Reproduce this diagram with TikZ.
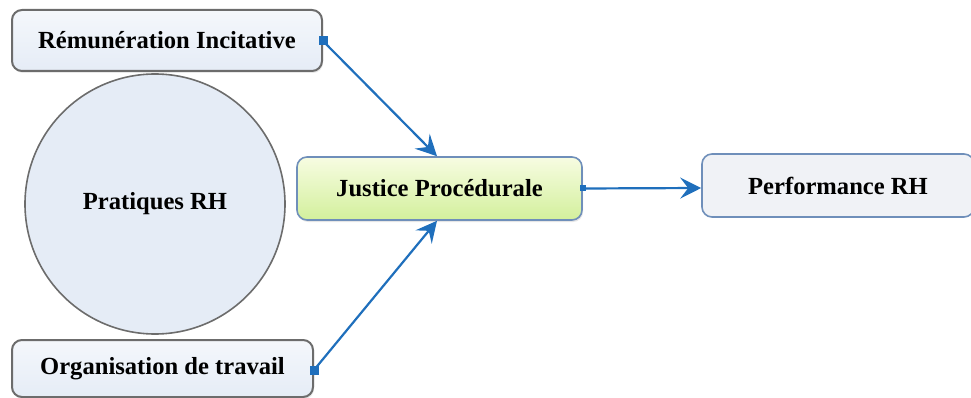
\documentclass[tikz,border=0pt]{standalone}
\usepackage{fontspec}
\setmainfont{Liberation Serif}
\usetikzlibrary{arrows.meta,shadows}
\definecolor{linkblue}{HTML}{1F6FBC}
\definecolor{graybd}{HTML}{6C6C6C}
\definecolor{bluebd}{HTML}{6F8FBA}
\definecolor{paleblue}{HTML}{E5ECF6}
\definecolor{palegray}{HTML}{F0F2F6}
\definecolor{limetop}{HTML}{F7FCE2}
\definecolor{limebot}{HTML}{D3F09C}
\tikzset{
  lbl/.style={font=\fontsize{24.6}{28}\selectfont\bfseries, text=black},
  graybox/.style={lbl, draw=graybd, line width=2pt, rounded corners=10pt,
    top color=white!60!paleblue, bottom color=paleblue,
    drop shadow={shadow xshift=1pt, shadow yshift=-2pt, opacity=0.18}},
  keybox/.style={lbl, draw=bluebd, line width=1.6pt, rounded corners=10pt,
    top color=limetop, bottom color=limebot,
    drop shadow={shadow xshift=1pt, shadow yshift=-2pt, opacity=0.2}},
  outbox/.style={lbl, draw=bluebd, line width=1.6pt, rounded corners=10pt,
    fill=palegray},
  bubble/.style={lbl, circle, draw=graybd, line width=1.6pt, fill=paleblue,
    inner sep=0pt},
  link/.style={draw=linkblue, line width=2.2pt,
    -{Stealth[length=21pt,width=21pt,inset=8pt]}},
  anchorsq/.style={fill=linkblue, inner sep=0pt, minimum size=9pt, rectangle},
  anchordot/.style={fill=linkblue, inner sep=0pt, minimum size=6pt, rectangle}
}
\begin{document}
\begin{tikzpicture}[x=1pt,y=-1pt]
\useasboundingbox (0,0) rectangle (971,398);
\clip (0,0) rectangle (971,398);

% input practices and the central mediator
\node[graybox, minimum width=310pt, minimum height=61pt] (rem) at (167,40.5) {Rémunération Incitative};
\node[bubble, minimum size=260pt] (prat) at (155,204) {Pratiques RH};
\node[graybox, minimum width=301pt, minimum height=57pt] (org) at (162.5,368.5) {Organisation de travail};
\node[keybox, minimum width=285pt, minimum height=63pt] (just) at (439.5,188.5) {Justice Procédurale};
\node[outbox, minimum width=272pt, minimum height=63pt] (perf) at (838,185.5) {Performance RH};

% connectors, each starting from a small square handle
\node[anchorsq] (remA) at ([yshift=-0.5pt]rem.east) {};
\node[anchorsq] (orgA) at ([yshift=-1.5pt]org.east) {};
\node[anchordot] (justA) at (just.east) {};
\coordinate (justTop) at ([xshift=-2.5pt]just.north);
\coordinate (justBot) at ([xshift=-2.5pt]just.south);
\path[link] (remA.center) -- (justTop);
\path[link] (orgA.center) -- (justBot);
\path[link] (justA.center) -- ([yshift=-2.5pt]perf.west);
\end{tikzpicture}
\end{document}
